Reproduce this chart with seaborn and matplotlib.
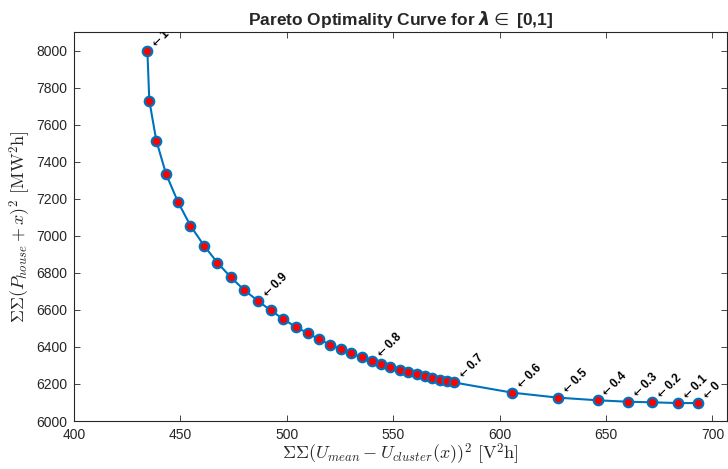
import matplotlib
matplotlib.use("Agg")
import matplotlib.pyplot as plt
import seaborn as sns
import pandas as pd

# lambda values (1 -> 0.70 step 0.01, then 0.6 .. 0)
lam = [1.00, 0.99, 0.98, 0.97, 0.96, 0.95, 0.94, 0.93, 0.92, 0.91,
       0.90, 0.89, 0.88, 0.87, 0.86, 0.85, 0.84, 0.83, 0.82, 0.81,
       0.80, 0.79, 0.78, 0.77, 0.76, 0.75, 0.74, 0.73, 0.72, 0.71,
       0.70, 0.6, 0.5, 0.4, 0.3, 0.2, 0.1, 0.0]
voltage_cost = [434.5, 435.4, 438.7, 443.3, 448.9, 454.7, 461.1, 467.4, 473.7, 480.1,
                486.5, 492.5, 498.4, 504.2, 509.9, 515.1, 520.2, 525.5, 530.4, 535.3,
                540.0, 544.4, 548.7, 553.1, 557.2, 561.1, 564.9, 568.3, 571.8, 575.3,
                578.7, 606.0, 627.6, 646.1, 660.4, 671.6, 683.9, 693.4]
power_cost = [7998, 7730, 7513, 7333, 7182, 7055, 6947, 6855, 6776, 6706,
              6648, 6597, 6550, 6508, 6474, 6442, 6413, 6388, 6366, 6343,
              6323, 6307, 6291, 6277, 6264, 6252, 6241, 6231, 6223, 6214,
              6208, 6153, 6126, 6112, 6104, 6101, 6097, 6097]
label_lams = [1.0, 0.9, 0.8, 0.7, 0.6, 0.5, 0.4, 0.3, 0.2, 0.1, 0.0]
label_texts = ["1", "0.9", "0.8", "0.7", "0.6", "0.5", "0.4", "0.3", "0.2", "0.1", "0"]
x_ticks = [400, 450, 500, 550, 600, 650, 700]
y_ticks = [6000, 6200, 6400, 6600, 6800, 7000, 7200, 7400, 7600, 7800, 8000]

df = pd.DataFrame({"lam": lam, "x": voltage_cost, "y": power_cost})

sns.set_style("ticks")
plt.rcParams["font.family"] = ["Liberation Sans", "DejaVu Sans"]
plt.rcParams["mathtext.fontset"] = "cm"

blue = "#0072BD"
fig = plt.figure(figsize=(7.28, 4.69), dpi=100)
ax = fig.add_axes([0.1016, 0.1023, 0.8974, 0.8295])

sns.lineplot(data=df, x="x", y="y", ax=ax, sort=False, color=blue, linewidth=1.5,
             marker="o", markersize=6.8, markerfacecolor="red",
             markeredgecolor=blue, markeredgewidth=1.6)

for lv, txt in zip(label_lams, label_texts):
    row = df[abs(df["lam"] - lv) < 1e-9].iloc[0]
    ax.annotate(r"$\leftarrow$" + txt, xy=(row["x"], row["y"]), xytext=(3.5, 3.0),
                textcoords="offset points", rotation=45, rotation_mode="anchor",
                ha="left", va="center", fontsize=8.5, fontweight="bold",
                color="black", annotation_clip=False, clip_on=True,
                math_fontfamily="dejavusans")

ax.set_xlim(400, 707)
ax.set_ylim(6000, 8100)
ax.set_xticks(x_ticks)
ax.set_yticks(y_ticks)
ax.tick_params(direction="in", length=4, width=0.6, top=True, right=True,
               labelsize=10, colors="#262626", labelcolor="#262626", pad=5)
for s in ax.spines.values():
    s.set_visible(True)
    s.set_linewidth(0.8)
    s.set_color("#262626")

ax.set_xlabel(r"$\Sigma\Sigma(U_{mean}-U_{cluster}(x))^2\ [\mathrm{V}^2\mathrm{h}]$",
              fontsize=13, labelpad=0)
ax.set_ylabel(r"$\Sigma\Sigma(P_{house}+x)^2\ [\mathrm{MW}^2\mathrm{h}]$",
              fontsize=13, labelpad=2)
ax.set_title(r"Pareto Optimality Curve for $\mathbfit{\lambda} \in$ [0,1]",
             fontsize=12.5, fontweight="bold", pad=5, math_fontfamily="dejavusans")

fig.savefig("out.png", dpi=100)
